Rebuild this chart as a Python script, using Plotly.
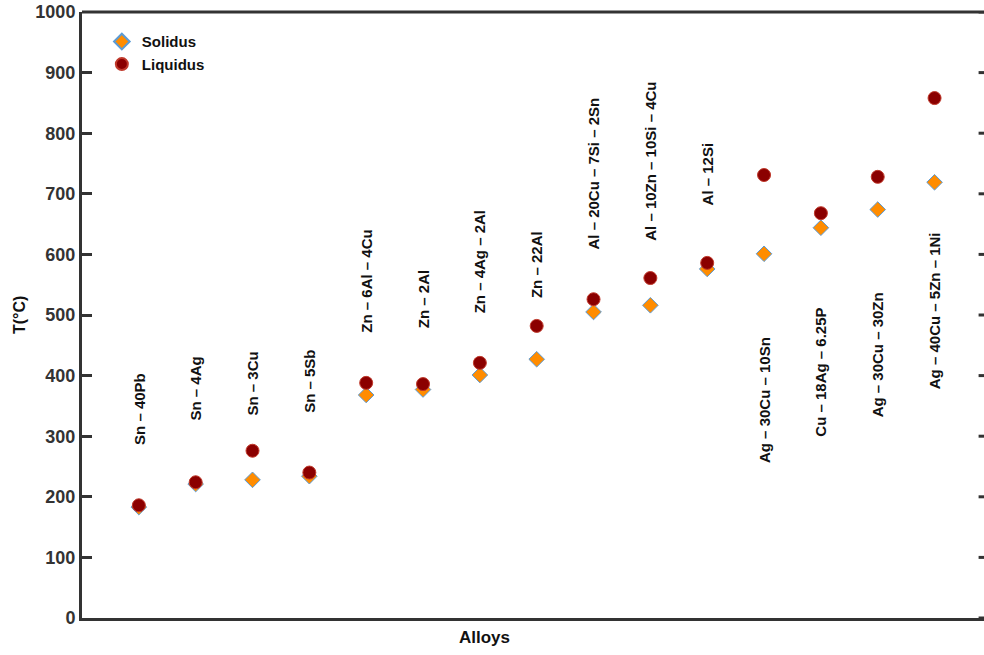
import plotly.graph_objects as go

alloys = ["Sn – 40Pb", "Sn – 4Ag", "Sn – 3Cu", "Sn – 5Sb", "Zn – 6Al – 4Cu", "Zn – 2Al",
          "Zn – 4Ag – 2Al", "Zn – 22Al", "Al – 20Cu – 7Si – 2Sn", "Al – 10Zn – 10Si – 4Cu",
          "Al – 12Si", "Ag – 30Cu – 10Sn", "Cu – 18Ag – 6.25P", "Ag – 30Cu – 30Zn",
          "Ag – 40Cu – 5Zn – 1Ni"]
solidus = [183, 221, 228, 234, 368, 377, 401, 427, 505, 516, 576, 601, 644, 674, 719]
liquidus = [186, 224, 276, 240, 388, 386, 421, 482, 526, 561, 586, 731, 668, 728, 858]
y_ticks = [0, 100, 200, 300, 400, 500, 600, 700, 800, 900, 1000]

x = list(range(1, len(alloys) + 1))

# label placement (layout): anchor value and side
label_anchor = [282, 322, 330, 335, 467, 475, 500, 525, 604, 619, 677, 467, 516, 541, 640]
label_side = ["above"] * 11 + ["below"] * 4

fig = go.Figure()
fig.add_trace(go.Scatter(
    x=x, y=solidus, mode="markers", name="Solidus",
    marker=dict(symbol="diamond", size=12, color="#FF8C00",
                line=dict(color="#5B9BD5", width=1))))
fig.add_trace(go.Scatter(
    x=x, y=liquidus, mode="markers", name="Liquidus",
    marker=dict(symbol="circle", size=13, color="#8B0000",
                line=dict(color="#C0392B", width=1))))

for xi, lab, a, side in zip(x, alloys, label_anchor, label_side):
    fig.add_annotation(x=xi, y=a, text=lab, textangle=-90, showarrow=False,
                       xanchor="center", yanchor="bottom" if side == "above" else "top",
                       font=dict(family="Liberation Sans, Arial", size=15, color="#111",
                                 weight="bold"))

# right-side tick marks (mirrored, no axis line)
for t in y_ticks:
    fig.add_shape(type="line", xref="paper", yref="y", x0=0.994, x1=1.0, y0=t, y1=t,
                  line=dict(color="#333", width=3))
# top frame line
fig.add_shape(type="line", xref="paper", yref="paper", x0=0, x1=1, y0=1, y1=1,
              line=dict(color="#333", width=3))

fig.add_annotation(x=0.446, y=0, xref="paper", yref="paper", yshift=-8,
                   text="<b>Alloys</b>", showarrow=False, xanchor="center", yanchor="top",
                   font=dict(family="Liberation Sans, Arial", size=17, color="#111"))
fig.add_annotation(x=0, y=0.5, xref="paper", yref="paper", xshift=-63,
                   text="<b>T(°C)</b>", textangle=-90, showarrow=False,
                   xanchor="center", yanchor="middle",
                   font=dict(family="Liberation Sans, Arial", size=16, color="#111"))

fig.update_layout(
    width=984, height=655,
    margin=dict(l=82, r=0, t=12, b=37),
    plot_bgcolor="white", paper_bgcolor="white",
    showlegend=True,
    legend=dict(x=0.022, y=0.978, xanchor="left", yanchor="top",
                bgcolor="rgba(0,0,0,0)",
                font=dict(family="Liberation Sans, Arial", size=15, color="#111",
                          weight="bold"),
                itemsizing="constant", tracegroupgap=0),
    xaxis=dict(range=[0, 15.87], showticklabels=False, ticks="", showgrid=False,
               zeroline=False, showline=True, linecolor="#333", linewidth=3, mirror=False),
    yaxis=dict(range=[0, 1000], tickvals=y_ticks, ticks="inside", ticklen=10, tickwidth=3,
               tickcolor="#333", showgrid=False, zeroline=False, showline=True,
               linecolor="#333", linewidth=3, ticklabeloverflow="allow",
               tickfont=dict(family="Liberation Sans, Arial",
                             size=18, color="#333", weight="bold")),
)

page_css = ("document.body.style.margin='0';"
            "document.body.style.overflow='hidden';"
            "document.documentElement.style.overflow='hidden';")
fig.write_html("out.html", post_script=page_css, config={"displayModeBar": False})
